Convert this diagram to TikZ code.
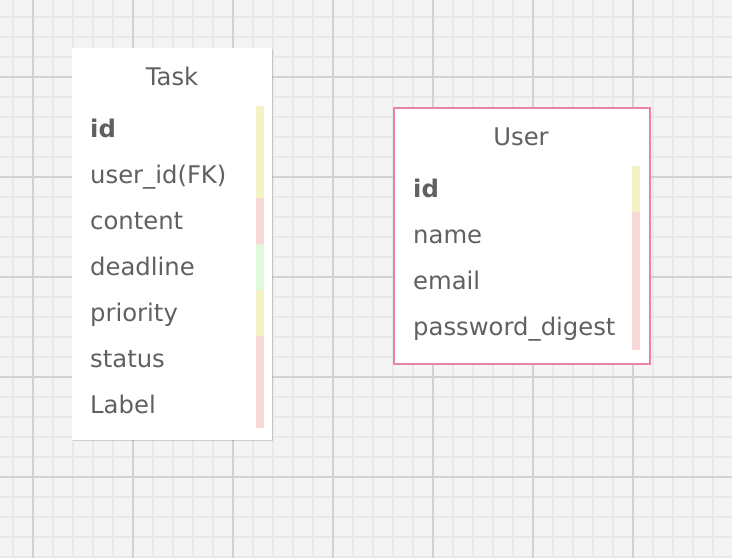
\documentclass[tikz,border=0pt]{standalone}
\usepackage{fontspec}
\setmainfont{DejaVu Sans}
\usetikzlibrary{shadows}
\definecolor{bgcol}{HTML}{F4F4F4}
\definecolor{minorcol}{HTML}{E9E9E9}
\definecolor{majorcol}{HTML}{D2D2D2}
\definecolor{txtcol}{HTML}{606060}
\definecolor{ybar}{HTML}{F3F1C6}
\definecolor{pbar}{HTML}{F9D9D8}
\definecolor{gbar}{HTML}{DFFADB}
\definecolor{pinkborder}{HTML}{E8849F}
\tikzset{
  minorline/.style={draw=minorcol, line width=1.8pt},
  majorline/.style={draw=majorcol, line width=1.8pt},
  tablebox/.style={rectangle, fill=white, inner sep=0pt, anchor=north west,
    drop shadow={shadow xshift=1.2pt, shadow yshift=-1.2pt, opacity=0.15, fill=black}},
  fieldtext/.style={anchor=mid west, inner sep=0pt, text=txtcol, font=\fontsize{24.3}{29}\selectfont},
  titletext/.style={anchor=mid, inner sep=0pt, text=txtcol, font=\fontsize{24.3}{29}\selectfont},
  barseg/.style={draw=none, inner sep=0pt, anchor=north west, minimum width=8pt},
}
\begin{document}
\begin{tikzpicture}[x=1pt,y=-1pt]
\useasboundingbox (0,0) rectangle (732,558);
\fill[bgcol] (0,0) rectangle (732,558);
% grid
\foreach \x in {13,53,73,93,113,153,173,193,213,253,273,293,313,353,373,393,413,453,473,493,513,553,573,593,613,653,673,693,713}
  \draw[minorline] (\x,0) -- (\x,558);
\foreach \y in {17,37,57,97,117,137,157,197,217,237,257,297,317,337,357,397,417,437,457,497,517,537,557}
  \draw[minorline] (0,\y) -- (732,\y);
\foreach \x in {33,133,233,333,433,533,633}
  \draw[majorline] (\x,0) -- (\x,558);
\foreach \y in {77,177,277,377,477}
  \draw[majorline] (0,\y) -- (732,\y);

% Task table
\node[tablebox, minimum width=200pt, minimum height=392pt] (task) at (72,48) {};
\node[barseg, fill=ybar, minimum height=92pt] (tbar1) at (256,106) {};
\node[barseg, fill=pbar, minimum height=46pt] (tbar2) at (256,198) {};
\node[barseg, fill=gbar, minimum height=46pt] (tbar3) at (256,244) {};
\node[barseg, fill=ybar, minimum height=46pt] (tbar4) at (256,290) {};
\node[barseg, fill=pbar, minimum height=92pt] (tbar5) at (256,336) {};
\node[titletext] (tasktitle) at (172,83) {Task};
\node[fieldtext] (taskid) at (90,135) {\bfseries id};
\node[fieldtext] (taskuser) at (90,181) {user\_id(FK)};
\node[fieldtext] (taskcontent) at (90,227) {content};
\node[fieldtext] (taskdeadline) at (90,273) {deadline};
\node[fieldtext] (taskpriority) at (90,319) {priority};
\node[fieldtext] (taskstatus) at (90,365) {status};
\node[fieldtext] (tasklabel) at (90,411) {Label};

% User table
\node[tablebox, draw=pinkborder, line width=1.6pt, minimum width=256pt, minimum height=256pt] (user) at (393,107) {};
\node[barseg, fill=ybar, minimum height=46pt] (ubar1) at (632,166) {};
\node[barseg, fill=pbar, minimum height=138pt] (ubar2) at (632,212) {};
\node[titletext] (usertitle) at (521,143) {User};
\node[fieldtext] (userid) at (413,195) {\bfseries id};
\node[fieldtext] (username) at (413,241) {name};
\node[fieldtext] (useremail) at (413,287) {email};
\node[fieldtext] (userpw) at (413,333) {password\_digest};
\end{tikzpicture}
\end{document}
